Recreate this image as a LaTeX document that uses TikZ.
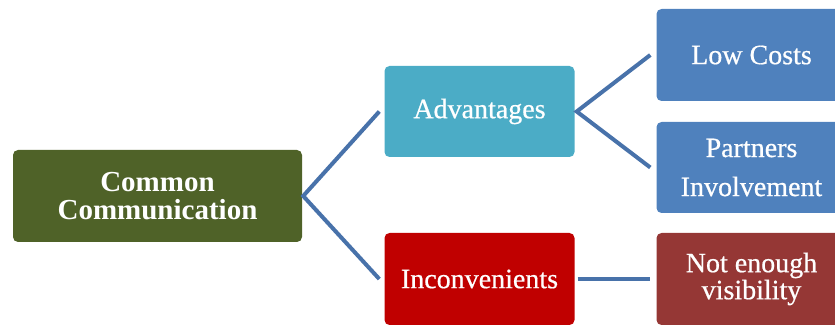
\documentclass[tikz,border=0pt]{standalone}
\usepackage{fontspec}
\setmainfont{Liberation Serif}
\newfontfamily\semibold[FakeBold=0.6]{Liberation Serif}
\definecolor{cgreen}{RGB}{79,98,40}
\definecolor{cteal}{RGB}{75,172,198}
\definecolor{cred}{RGB}{192,0,0}
\definecolor{cblue}{RGB}{79,129,189}
\definecolor{cbrown}{RGB}{149,55,53}
\definecolor{cline}{RGB}{72,114,170}
\begin{document}
\begin{tikzpicture}[x=1pt,y=1pt,
  box/.style={rounded corners=5pt, draw=none, text=white, align=center,
    minimum width=#1, inner sep=0pt, font=\semibold\fontsize{28}{32}\selectfont},
  box/.default=190pt,
  conn/.style={draw=cline, line width=4pt}]
\useasboundingbox (0,0) rectangle (835,324);
\begin{scope}
\clip (0,0) rectangle (835,324);
\node[box=289pt, minimum height=92pt, fill=cgreen, font=\fontsize{29}{28}\selectfont\bfseries] (common) at (157.5,128) {Common\\Communication};
\node[box, minimum height=91pt, fill=cteal] (adv) at (479.5,212.5) {Advantages};
\node[box, minimum height=92pt, fill=cred] (inc) at (479.5,45) {Inconvenients};
\node[box, minimum height=92pt, fill=cblue] (low) at (751.5,269) {Low Costs};
\node[box, minimum height=91pt, fill=cblue, font=\semibold\fontsize{28}{39}\selectfont] (part) at (751.5,156.5) {Partners\\Involvement};
\node[box, minimum height=92pt, fill=cbrown, font=\semibold\fontsize{28}{27}\selectfont] (not) at (751.5,45) {Not enough\\visibility};
\end{scope}
\draw[conn] ([xshift=-5pt]adv.west) -- ([xshift=1pt]common.east) -- ([xshift=-5pt]inc.west);
\draw[conn] ([xshift=-6pt]low.west) -- ([xshift=2pt]adv.east) -- ([xshift=-6pt]part.west);
\draw[conn] ([xshift=3pt]inc.east) -- ([xshift=-6pt]not.west);
\end{tikzpicture}
\end{document}
